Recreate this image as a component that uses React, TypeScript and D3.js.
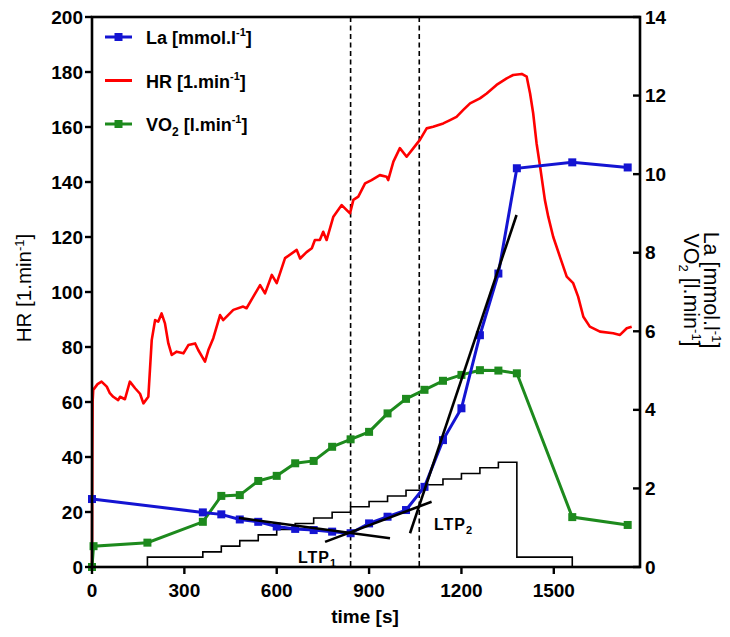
import React from 'react';
import * as d3 from 'd3';

// Heart rate trace: [time s, HR 1/min]
const hrTrace: [number, number][] = [
  [0, 0], [1, 40], [2, 60], [4, 64.4], [18, 66.5], [31, 67.4], [48, 65.6], [58, 63.2], [69, 61.9],
  [85, 60.7], [91, 61.9], [107, 61], [123, 67.4], [140, 65], [156, 63], [167, 59.5],
  [183, 61.9], [194, 82.5], [205, 89.8], [215, 89.2], [226, 92.2], [237, 88.6],
  [248, 81.3], [259, 77.1], [275, 78.3], [297, 77.7], [313, 80.7], [335, 81.3],
  [345, 78.9], [367, 74.7], [378, 78.9], [394, 83.2], [416, 91.6], [426, 89.8],
  [459, 93.5], [491, 94.7], [502, 94.1], [524, 98.3], [546, 102.5], [562, 99.5],
  [584, 106.2], [600, 103.2], [627, 112.3], [665, 115.3], [676, 112.2], [697, 114.5],
  [714, 115.9], [724, 118.9], [740, 118.9], [751, 121.9], [762, 118.9], [784, 127.4],
  [811, 131.6], [838, 128.6], [849, 133.5], [865, 134.7], [887, 139.5], [908, 140.7],
  [935, 142.5], [957, 141.9], [962, 140.7], [979, 147.4], [1000, 152.3], [1022, 149.2],
  [1044, 152.3], [1065, 155.3], [1087, 159.5], [1108, 160.1], [1141, 161.3], [1163, 162.5],
  [1184, 163.7], [1206, 166.2], [1228, 168.6], [1260, 170.4], [1282, 172.2], [1314, 175.3],
  [1347, 177.7], [1368, 178.9], [1396, 179.3], [1412, 178.3], [1423, 172.2], [1433, 165],
  [1444, 154.1], [1455, 146], [1471, 133.5], [1482, 127.4], [1498, 120.1], [1520, 112.8],
  [1542, 105.6], [1563, 103.2], [1579, 98.3], [1596, 91.0], [1617, 87.4], [1650, 85.6],
  [1693, 85.0], [1715, 84.4], [1737, 86.8], [1753, 87.4],
];

// Blood lactate samples [time s, mmol/l]
const laTime = [0, 360, 420, 480, 540, 600, 660, 720, 780, 840, 900, 960, 1020, 1080, 1140, 1200, 1260, 1320, 1380, 1560, 1740];
const laValue = [1.73, 1.39, 1.34, 1.21, 1.15, 1.03, 0.97, 0.94, 0.9, 0.86, 1.11, 1.28, 1.45, 2.04, 3.23, 4.04, 5.9, 7.47, 10.15, 10.3, 10.17];

// Oxygen uptake samples [time s, l/min]
const vo2Time = [0, 5, 180, 360, 420, 480, 540, 600, 660, 720, 780, 840, 900, 960, 1020, 1080, 1140, 1200, 1260, 1320, 1380, 1560, 1740];
const vo2Value = [0, 0.53, 0.62, 1.15, 1.81, 1.83, 2.19, 2.32, 2.64, 2.7, 3.06, 3.25, 3.44, 3.91, 4.28, 4.51, 4.74, 4.89, 5.01, 5.0, 4.93, 1.27, 1.07];

// Workload protocol steps (drawn on the HR scale)
const loadTime = [180, 180, 360, 420, 480, 540, 600, 660, 720, 780, 840, 900, 960, 1020, 1080, 1140, 1200, 1260, 1320, 1380, 1560];
const loadValue = [0, 3.6, 5.5, 7.6, 9.6, 11.7, 13.7, 15.8, 17.8, 19.9, 21.9, 23.8, 25.8, 27.9, 29.9, 32.0, 34.0, 36.1, 38.1, 3.6, 0];

// Lactate turn points and fitted regression segments [time s, mmol/l]
const ltpTimes = [840, 1063];
const fitSegments: [number, number][][] = [
  [[477, 1.25], [968, 0.73]],
  [[757, 0.64], [1103, 1.66]],
  [[1033, 0.86], [1379, 8.96]],
];

const hrTicks = [0, 20, 40, 60, 80, 100, 120, 140, 160, 180, 200];
const rightTicks = [0, 2, 4, 6, 8, 10, 12, 14];
const timeTicks = [0, 300, 600, 900, 1200, 1500];

const W = 730;
const H = 637;
const FONT = '"Liberation Sans", Arial, Helvetica, sans-serif';
const RED = '#ff0000';
const BLUE = '#1414d2';
const GREEN = '#1d8a1d';

export default function App() {
  const x = d3.scaleLinear().domain([0, 1780]).range([92, 640]);
  const yHR = d3.scaleLinear().domain([0, 200]).range([567, 17]);
  const yR = d3.scaleLinear().domain([0, 14]).range([567, 17]);

  const hrLine = d3.line<[number, number]>().x((d) => x(d[0])).y((d) => yHR(d[1]));
  const laPts: [number, number][] = laTime.map((t, i) => [x(t), yR(laValue[i])]);
  const vo2Pts: [number, number][] = vo2Time.map((t, i) => [x(t), yR(vo2Value[i])]);
  const loadPath = d3
    .line<number>()
    .x((_, i) => x(loadTime[i]))
    .y((v) => yHR(v))
    .curve(d3.curveStepAfter)(loadValue);
  const ptLine = d3.line<[number, number]>();

  const left = x(0);
  const right = x(1780);
  const top = yHR(200);
  const bottom = yHR(0);
  const M = 8;

  const legend = [
    { color: BLUE, marker: true, main: 'La [mmol.l', sup: '-1', tail: ']', sub: '' },
    { color: RED, marker: false, main: 'HR [1.min', sup: '-1', tail: ']', sub: '' },
    { color: GREEN, marker: true, main: 'VO', sub: '2', rest: ' [l.min', sup: '-1', tail: ']' },
  ];

  return (
    <svg
      width={W}
      height={H}
      style={{ position: 'fixed', left: 0, top: 0, background: '#fff' }}
      fontFamily={FONT}
    >
      <rect x={0} y={0} width={W} height={H} fill="#fff" />

      {/* workload steps */}
      <path d={loadPath || ''} fill="none" stroke="#000" strokeWidth={1.6} />

      {/* turn point markers */}
      {ltpTimes.map((t) => (
        <line key={t} x1={x(t)} x2={x(t)} y1={top} y2={bottom} stroke="#000" strokeWidth={1.6} strokeDasharray="5,3.5" />
      ))}

      {/* heart rate */}
      <path d={hrLine(hrTrace) || ''} fill="none" stroke={RED} strokeWidth={2.6} strokeLinejoin="round" />

      {/* VO2 */}
      <path d={ptLine(vo2Pts) || ''} fill="none" stroke={GREEN} strokeWidth={3} />
      {vo2Pts.map((p, i) => (
        <rect key={'g' + i} x={p[0] - M / 2} y={p[1] - M / 2} width={M} height={M} fill={GREEN} />
      ))}

      {/* lactate */}
      <path d={ptLine(laPts) || ''} fill="none" stroke={BLUE} strokeWidth={3} />
      {laPts.map((p, i) => (
        <rect key={'b' + i} x={p[0] - M / 2} y={p[1] - M / 2} width={M} height={M} fill={BLUE} />
      ))}

      {/* regression segments */}
      {fitSegments.map((s, i) => (
        <path
          key={'f' + i}
          d={ptLine(s.map((d) => [x(d[0]), yR(d[1])] as [number, number])) || ''}
          stroke="#000"
          strokeWidth={2.6}
          fill="none"
        />
      ))}

      {/* LTP labels */}
      <text x={298} y={563} fontSize={16} fontWeight="bold" letterSpacing={1}>
        LTP<tspan fontSize={11} dy={4}>1</tspan>
      </text>
      <text x={434} y={530} fontSize={16} fontWeight="bold" letterSpacing={1}>
        LTP<tspan fontSize={11} dy={4}>2</tspan>
      </text>

      {/* frame */}
      <rect x={left} y={top} width={right - left} height={bottom - top} fill="none" stroke="#000" strokeWidth={2.6} />

      {/* left axis */}
      {hrTicks.map((t) => (
        <g key={'l' + t}>
          <line x1={left - 7} x2={left} y1={yHR(t)} y2={yHR(t)} stroke="#000" strokeWidth={2.4} />
          <text x={left - 9} y={yHR(t) + 6.5} textAnchor="end" fontSize={19} fontWeight="bold">
            {t}
          </text>
        </g>
      ))}

      {/* right axis */}
      {rightTicks.map((t) => (
        <g key={'r' + t}>
          <line x1={right - 7} x2={right} y1={yR(t)} y2={yR(t)} stroke="#000" strokeWidth={2.4} />
          <text x={right + 5} y={yR(t) + 6.5} textAnchor="start" fontSize={19} fontWeight="bold">
            {t}
          </text>
        </g>
      ))}

      {/* bottom axis */}
      {timeTicks.map((t) => (
        <g key={'b' + t}>
          <line x1={x(t)} x2={x(t)} y1={bottom} y2={bottom + 7} stroke="#000" strokeWidth={2.4} />
          <text x={x(t)} y={597} textAnchor="middle" fontSize={19} fontWeight="bold">
            {t}
          </text>
        </g>
      ))}

      {/* axis titles */}
      <text x={365} y={623} textAnchor="middle" fontSize={19} fontWeight="bold">
        time [s]
      </text>
      <text transform="translate(31,288) rotate(-90)" textAnchor="middle" fontSize={20.5}>
        HR [1.min<tspan fontSize={13} dy={-7}>-1</tspan><tspan dy={7}>]</tspan>
      </text>
      <text transform="translate(704,290) rotate(90)" textAnchor="middle" fontSize={21.5}>
        La [mmol.l<tspan fontSize={13} dy={-8}>-1</tspan><tspan dy={8}>]</tspan>
      </text>
      <text transform="translate(684,290) rotate(90)" textAnchor="middle" fontSize={21.5}>
        VO<tspan fontSize={13} dy={5}>2</tspan><tspan dy={-5}> [l.min</tspan>
        <tspan fontSize={13} dy={-8}>-1</tspan><tspan dy={8}>]</tspan>
      </text>

      {/* legend */}
      {legend.map((l, i) => {
        const ly = 37 + i * 43.5;
        return (
          <g key={'lg' + i}>
            <line x1={105} x2={132} y1={ly} y2={ly} stroke={l.color} strokeWidth={3} />
            {l.marker && <rect x={118.5 - M / 2} y={ly - M / 2} width={M} height={M} fill={l.color} />}
            <text x={146} y={ly + 7} fontSize={18} fontWeight="bold">
              {l.main}
              {l.sub ? (
                <>
                  <tspan fontSize={12} dy={5}>{l.sub}</tspan>
                  <tspan dy={-5}>{l.rest}</tspan>
                </>
              ) : null}
              <tspan fontSize={11} dy={-8}>{l.sup}</tspan>
              <tspan dy={8}>{l.tail}</tspan>
            </text>
          </g>
        );
      })}
    </svg>
  );
}
